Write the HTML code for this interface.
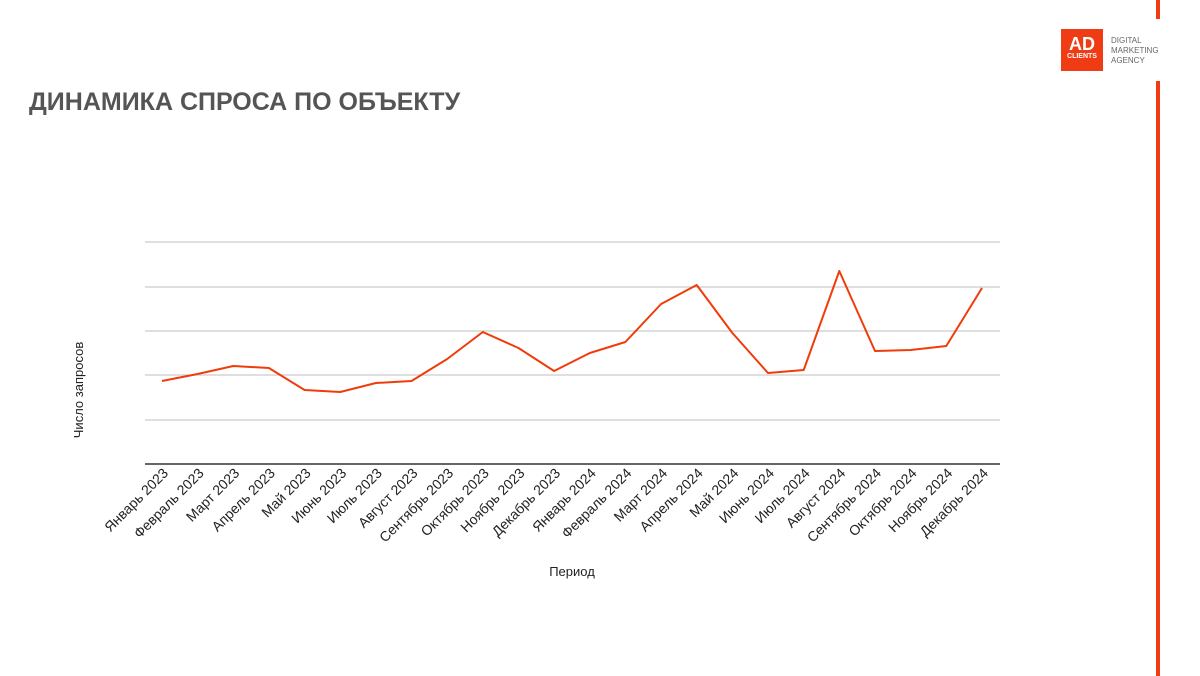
<!DOCTYPE html>
<html><head><meta charset="utf-8"><style>
body{margin:0;width:1200px;height:676px;background:#fff;position:relative;overflow:hidden;font-family:"Liberation Sans",sans-serif}
.bar{position:absolute;left:1156px;width:4px;background:#f03c14}
</style></head><body>
<div class="bar" style="top:0;height:19px"></div>
<div class="bar" style="top:81px;height:595px"></div>
<div style="position:absolute;left:1061px;top:29px;width:42px;height:42px;background:#f03c14;color:#fff;text-align:center;font-weight:bold">
<div style="font-size:18px;line-height:18px;margin-top:6px">AD</div><div style="font-size:7px;line-height:8px">CLIENTS</div></div>
<div style="position:absolute;left:1111px;top:36px;font-size:8px;line-height:10px;color:#666">DIGITAL<br>MARKETING<br>AGENCY</div>
<div style="position:absolute;left:29px;top:88px;font-size:25px;font-weight:bold;color:#555">ДИНАМИКА СПРОСА ПО ОБЪЕКТУ</div>
<svg width="1200" height="676" style="position:absolute;left:0;top:0">
<g stroke="#ccc" stroke-width="1.2">
<line x1="145" x2="1000" y1="242" y2="242"/><line x1="145" x2="1000" y1="287" y2="287"/><line x1="145" x2="1000" y1="331" y2="331"/><line x1="145" x2="1000" y1="375" y2="375"/><line x1="145" x2="1000" y1="420" y2="420"/></g>
<line x1="145" x2="1000" y1="464" y2="464" stroke="#333" stroke-width="1.5"/>
<polyline fill="none" stroke="#f03c0a" stroke-width="2" stroke-linejoin="round" points="162,381 197.6,374 233.3,366 268.9,368 304.6,390 340.2,392 375.9,383 411.5,381 447.2,359 482.8,332 518.5,348 554.1,371 589.8,353 625.4,342 661.1,304 696.7,285 732.4,333 768,373 803.7,370 839.3,271 875,351 910.6,350 946.3,346 982,288"/>
<g font-size="14" fill="#222" text-anchor="end">
<text transform="translate(169,474) rotate(-45)">Январь 2023</text>
<text transform="translate(204.6,474) rotate(-45)">Февраль 2023</text>
<text transform="translate(240.3,474) rotate(-45)">Март 2023</text>
<text transform="translate(275.9,474) rotate(-45)">Апрель 2023</text>
<text transform="translate(311.6,474) rotate(-45)">Май 2023</text>
<text transform="translate(347.2,474) rotate(-45)">Июнь 2023</text>
<text transform="translate(382.9,474) rotate(-45)">Июль 2023</text>
<text transform="translate(418.5,474) rotate(-45)">Август 2023</text>
<text transform="translate(454.2,474) rotate(-45)">Сентябрь 2023</text>
<text transform="translate(489.8,474) rotate(-45)">Октябрь 2023</text>
<text transform="translate(525.5,474) rotate(-45)">Ноябрь 2023</text>
<text transform="translate(561.1,474) rotate(-45)">Декабрь 2023</text>
<text transform="translate(596.8,474) rotate(-45)">Январь 2024</text>
<text transform="translate(632.4,474) rotate(-45)">Февраль 2024</text>
<text transform="translate(668.1,474) rotate(-45)">Март 2024</text>
<text transform="translate(703.7,474) rotate(-45)">Апрель 2024</text>
<text transform="translate(739.4,474) rotate(-45)">Май 2024</text>
<text transform="translate(775,474) rotate(-45)">Июнь 2024</text>
<text transform="translate(810.7,474) rotate(-45)">Июль 2024</text>
<text transform="translate(846.3,474) rotate(-45)">Август 2024</text>
<text transform="translate(882,474) rotate(-45)">Сентябрь 2024</text>
<text transform="translate(917.6,474) rotate(-45)">Октябрь 2024</text>
<text transform="translate(953.3,474) rotate(-45)">Ноябрь 2024</text>
<text transform="translate(989,474) rotate(-45)">Декабрь 2024</text>
</g>
<text x="572" y="576" font-size="13" fill="#222" text-anchor="middle">Период</text>
<text transform="translate(83,390) rotate(-90)" font-size="13" fill="#222" text-anchor="middle">Число запросов</text>
</svg>
</body></html>
